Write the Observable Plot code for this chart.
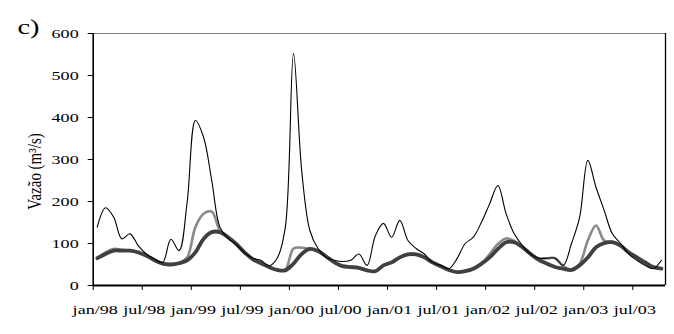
<!DOCTYPE html>
<html><head><meta charset="utf-8">
<script src="https://cdn.jsdelivr.net/npm/d3@7"></script>
<script src="https://cdn.jsdelivr.net/npm/@observablehq/plot@0.6"></script>
<style>body{margin:0;background:#fff}#c{width:674px;height:334px}
svg, svg text{font-family:"Liberation Serif","Times New Roman",serif !important}</style>
</head><body><div id="c"></div>
<script>
const tickLabels = ["jan/98","jul/98","jan/99","jul/99","jan/00","jul/00","jan/01","jul/01","jan/02","jul/02","jan/03","jul/03"];
const yTicks = [0,100,200,300,400,500,600];
// monthly values jan/98 .. oct/03
const observed = [139,185,163,111,123,95,75,63,55,110,83,200,393,353,250,139,112,97,78,65,60,47,65,139,552,274,131,88,67,60,57,60,75,48,118,148,115,155,107,88,75,55,48,40,64,100,115,151,195,238,171,123,95,75,65,65,65,48,100,163,298,234,179,123,100,75,60,48,40,60];
const model1 = [65,79,87,85,83,79,71,60,52,50,53,67,139,171,176,131,115,99,79,63,53,44,37,38,88,90,87,82,69,55,46,44,42,36,34,48,55,67,75,75,67,55,46,37,32,34,40,52,75,99,112,106,91,75,65,65,65,46,38,52,107,143,107,103,95,79,67,55,44,40];
const model2 = [65,75,83,83,83,79,71,60,52,50,53,60,79,111,127,127,115,99,79,63,53,44,37,36,52,75,87,82,69,55,46,44,42,36,34,48,55,67,74,74,67,55,46,37,32,34,40,52,67,87,103,103,91,75,61,52,44,40,37,48,67,91,101,103,95,79,67,55,44,40];

const toRows = arr => arr.map((v, i) => ({m: i + 0.5, v}));
const nMonths = observed.length;
const tickPos = tickLabels.map((_, k) => k * 6);
const serif = "Liberation Serif";

const chart = Plot.plot({
  width: 674, height: 334,
  marginLeft: 92.7, marginRight: 9, marginTop: 33, marginBottom: 49,
  style: {fontFamily: serif, fontSize: "12.5px", background: "#fff", color: "#000"},
  x: {domain: [0, nMonths], axis: null},
  y: {domain: [0, 600], axis: null},
  marks: [
    Plot.ruleY([600], {stroke: "#808080", strokeWidth: 1}),
    Plot.ruleX([nMonths], {stroke: "#000", strokeWidth: 1.3}),
    Plot.lineY(toRows(model1), {x: "m", y: "v", stroke: "#8a8a8a", strokeWidth: 2.6, curve: "catmull-rom"}),
    Plot.lineY(toRows(model2), {x: "m", y: "v", stroke: "#404040", strokeWidth: 3.8, curve: "catmull-rom"}),
    Plot.lineY(toRows(observed), {x: "m", y: "v", stroke: "#000", strokeWidth: 1.1, curve: "catmull-rom"}),
    Plot.ruleX([0], {stroke: "#000", strokeWidth: 1.6}),
    Plot.ruleY([0], {stroke: "#000", strokeWidth: 2}),
    Plot.axisY(yTicks, {tickSize: 5, tickPadding: 9.5, label: null, fontSize: 12.5, fontFamily: serif, tickFormat: d => String(d)}),
    Plot.axisX(tickPos, {tickSize: 5, tickFormat: () => "", label: null}),
    Plot.text(tickLabels, {x: (d, k) => k * 6 + 0.25, frameAnchor: "bottom", dy: 28, text: d => d, fontSize: 12.5, fontFamily: serif}),
    Plot.text(["Vazão (m³/s)"], {frameAnchor: "left", textAnchor: "middle", dx: -57.7, dy: 12, rotate: -90, fontSize: 15, fontFamily: serif, className: "ylab"}),
    Plot.text(["c)"], {frameAnchor: "top-left", dx: -75.7, dy: 0, textAnchor: "start", lineAnchor: "bottom", fontSize: 21, fontFamily: serif, className: "clab"})
  ]
});
document.getElementById("c").append(chart);

// the reference's text is horizontally stretched; reproduce that
function stretch(t, sx, sy) {
  const tr = t.getAttribute("transform") || "";
  t.setAttribute("transform", `${tr} scale(${sx},${sy})`);
}
chart.querySelectorAll("text").forEach(t => {
  const g = t.closest("g");
  if (g && g.classList.contains("ylab")) stretch(t, 1, 1.2);
  else if (g && g.classList.contains("clab")) stretch(t, 1.35, 1);
  else stretch(t, 1.45, 1);
});
</script></body></html>
